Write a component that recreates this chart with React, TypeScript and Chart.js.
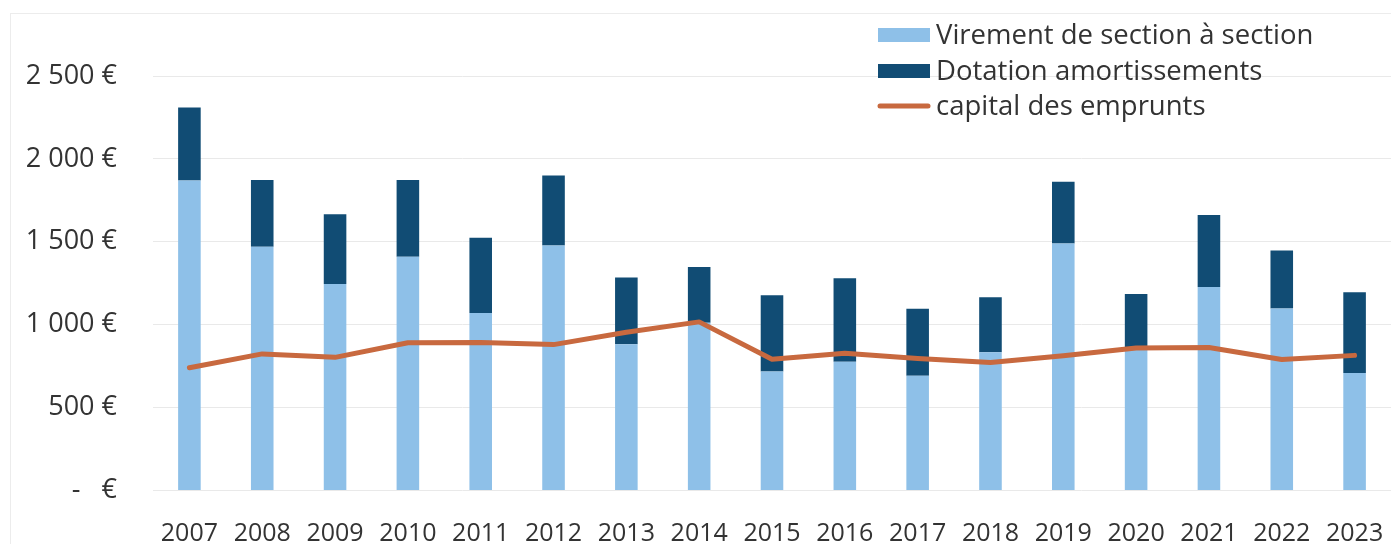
import React, { useEffect, useRef } from "react";
import { Chart, registerables } from "chart.js";

Chart.register(...registerables);

const years = ["2007","2008","2009","2010","2011","2012","2013","2014","2015","2016","2017","2018","2019","2020","2021","2022","2023"];
const virement = [1870,1470,1245,1410,1070,1478,882,1012,717,776,692,834,1490,855,1228,1098,709];
const dotation = [440,402,421,462,454,422,403,336,461,504,404,331,372,330,434,349,486];
const capital = [740,824,803,891,892,880,955,1017,792,828,796,772,813,860,862,790,815];
const yTicks = [0,500,1000,1500,2000,2500];
const labelNames = ["Virement de section à section","Dotation amortissements","capital des emprunts"];

const LIGHT = "#8ec0e8";
const DARK = "#114c74";
const ORANGE = "#c8693f";
const TEXT = "#333333";
const FONT = "'Open Sans', sans-serif";

function fmtEuro(v: number): string {
  if (v === 0) return "-   €";
  if (v >= 1000) {
    const th = Math.floor(v / 1000);
    const rest = String(v % 1000).padStart(3, "0");
    return th + " " + rest + " €";
  }
  return v + " €";
}

const frameAndLegend = {
  id: "frameAndLegend",
  beforeDraw(chart: any) {
    const ctx = chart.ctx;
    ctx.save();
    ctx.strokeStyle = "#ececec";
    ctx.lineWidth = 1;
    ctx.strokeRect(10.5, 13.5, chart.width + 20, chart.height + 20);
    ctx.restore();
  },
  afterDraw(chart: any) {
    const ctx = chart.ctx;
    const ds = chart.data.datasets;
    const boxX = 878;
    const boxW = 52;
    const boxH = 14;
    const textX = 936;
    const rows = [35, 71, 106];
    ctx.save();
    ctx.font = "27.5px " + FONT;
    ctx.textBaseline = "middle";
    ctx.textAlign = "left";
    ds.forEach((d: any, r: number) => {
      const y = rows[r];
      if (d.type === "line") {
        ctx.strokeStyle = d.borderColor;
        ctx.lineWidth = 5;
        ctx.lineCap = "round";
        ctx.beginPath();
        ctx.moveTo(boxX + 2, y);
        ctx.lineTo(boxX + boxW - 2, y);
        ctx.stroke();
      } else {
        ctx.fillStyle = d.backgroundColor;
        ctx.fillRect(boxX, y - boxH / 2, boxW, boxH);
      }
      ctx.fillStyle = TEXT;
      ctx.fillText(d.label, textX, y + 1);
    });
    ctx.restore();
  },
};

export default function App() {
  const ref = useRef<HTMLCanvasElement | null>(null);
  useEffect(() => {
    if (!ref.current) return;
    const chart = new Chart(ref.current, {
      type: "bar",
      data: {
        labels: years,
        datasets: [
          {
            type: "bar",
            label: labelNames[0],
            data: virement,
            backgroundColor: LIGHT,
            borderWidth: 0,
            stack: "bars",
            order: 1,
            barPercentage: 0.31,
            categoryPercentage: 1,
          },
          {
            type: "bar",
            label: labelNames[1],
            data: dotation,
            backgroundColor: DARK,
            borderWidth: 0,
            stack: "bars",
            order: 1,
            barPercentage: 0.31,
            categoryPercentage: 1,
          },
          {
            type: "line",
            label: labelNames[2],
            data: capital,
            borderColor: ORANGE,
            backgroundColor: ORANGE,
            borderWidth: 5,
            pointRadius: 0,
            tension: 0,
            borderCapStyle: "round",
            borderJoinStyle: "round",
            stack: "line",
            order: 0,
          } as any,
        ],
      },
      options: {
        animation: false,
        responsive: true,
        maintainAspectRatio: false,
        layout: { padding: { left: 0, right: 0, top: 76, bottom: 0 } },
        plugins: {
          legend: { display: false },
          tooltip: { enabled: false },
          title: { display: false },
        },
        scales: {
          x: {
            stacked: true,
            grid: { display: false, drawTicks: false },
            border: { display: false },
            ticks: {
              color: TEXT,
              font: { family: FONT, size: 25 },
              padding: 28,
              maxRotation: 0,
              autoSkip: false,
            },
            afterFit(scale: any) {
              scale.height = 53.5;
              scale.paddingLeft = 0;
              scale.paddingRight = 0;
            },
          },
          y: {
            stacked: true,
            min: 0,
            max: 2500,
            afterBuildTicks(scale: any) {
              scale.ticks = yTicks.map((v) => ({ value: v }));
            },
            grid: { color: "#e9e9e9", lineWidth: 1, drawTicks: false },
            border: { display: false },
            ticks: {
              color: TEXT,
              font: { family: FONT, size: 27 },
              padding: 36,
              callback: (v: any) => fmtEuro(Number(v)),
            },
            afterFit(scale: any) {
              scale.width = 153;
            },
          },
        },
      },
      plugins: [frameAndLegend],
    });
    return () => chart.destroy();
  }, []);
  return (
    <div style={{ position: "fixed", left: 0, top: 0, width: 1391, height: 544, background: "#fff" }}>
      <canvas ref={ref} />
    </div>
  );
}
